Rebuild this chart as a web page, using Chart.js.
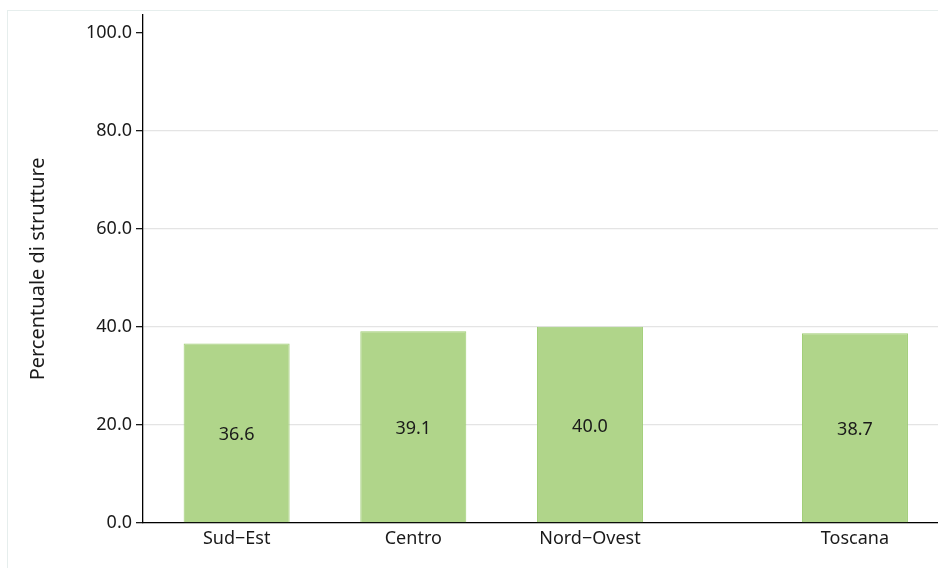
<!DOCTYPE html>
<html>
<head>
<meta charset="utf-8">
<script src="https://cdn.jsdelivr.net/npm/chart.js@4/dist/chart.umd.min.js"></script>
<style>
  html, body { margin: 0; padding: 0; background: #fff; overflow: hidden; }
  #frame { position: absolute; left: 7px; top: 10px; width: 960px; height: 600px;
           border-left: 1px solid #e6eeed; border-top: 1px solid #e6eeed; }
  #wrap { position: absolute; left: 0; top: 0; width: 938px; height: 568px; }
</style>
</head>
<body>
<div id="frame"></div>
<div id="wrap"><canvas id="chart"></canvas></div>
<script>
// categories and their positions (Toscana sits after a half-step gap)
const categories = ["Sud\u2212Est", "Centro", "Nord\u2212Ovest", "Toscana"];
const positions = [0, 1, 2, 3.5];
const values = [36.6, 39.1, 40.0, 38.7];
const yTicks = [0, 20, 40, 60, 80, 100];

const FONT = "'Noto Sans', sans-serif";

// value labels centred inside each bar
const barLabels = {
  id: 'barLabels',
  afterDatasetsDraw(chart) {
    const ctx = chart.ctx;
    const meta = chart.getDatasetMeta(0);
    ctx.save();
    ctx.font = "18px " + FONT;
    ctx.fillStyle = "#1a1a1a";
    ctx.textAlign = "center";
    ctx.textBaseline = "middle";
    meta.data.forEach((bar, i) => {
      const mid = (bar.y + bar.base) / 2;
      ctx.fillText(values[i].toFixed(1), bar.x, mid + 2);
    });
    ctx.restore();
  }
};

new Chart(document.getElementById('chart'), {
  type: 'bar',
  data: {
    datasets: [{
      data: positions.map((x, i) => ({ x: x, y: values[i] })),
      backgroundColor: '#b0d58a',
      borderColor: '#9fcd74',
      borderWidth: 1,
      barPercentage: 0.6,
      categoryPercentage: 1.0
    }]
  },
  options: {
    responsive: true,
    maintainAspectRatio: false,
    animation: false,
    layout: { padding: { top: 11, right: 0, left: 0, bottom: 0 } },
    plugins: {
      legend: { display: false },
      tooltip: { enabled: false }
    },
    scales: {
      x: {
        type: 'linear',
        min: -0.53,
        max: 3.97,
        offset: false,
        afterBuildTicks: (scale) => {
          scale.ticks = positions.map(v => ({ value: v }));
        },
        afterFit: (scale) => { scale.height = 45; },
        ticks: {
          autoSkip: false,
          maxRotation: 0,
          padding: 5,
          color: '#1a1a1a',
          font: { family: FONT, size: 18 },
          callback: (v) => {
            const i = positions.indexOf(v);
            return i >= 0 ? categories[i] : '';
          }
        },
        grid: { display: false, drawTicks: false, offset: false },
        border: { display: true, color: '#000', width: 1.3 }
      },
      y: {
        min: 0,
        max: 103.6,
        afterBuildTicks: (scale) => {
          scale.ticks = yTicks.map(v => ({ value: v }));
        },
        afterFit: (scale) => { scale.width = 143; },
        ticks: {
          padding: 4,
          color: '#1a1a1a',
          font: { family: FONT, size: 18 },
          callback: (v) => v.toFixed(1)
        },
        grid: {
          color: (c) => (c.tick && c.tick.value === 100) ? 'rgba(0,0,0,0)' : '#e4e4e4',
          tickColor: '#1a1a1a',
          tickLength: 7,
          lineWidth: 1.3
        },
        border: { display: true, color: '#000', width: 1.3 },
        title: {
          display: true,
          text: 'Percentuale di strutture',
          color: '#1a1a1a',
          font: { family: FONT, size: 20 },
          padding: { top: 26, bottom: 0 }
        }
      }
    }
  },
  plugins: [barLabels]
});
</script>
</body>
</html>
